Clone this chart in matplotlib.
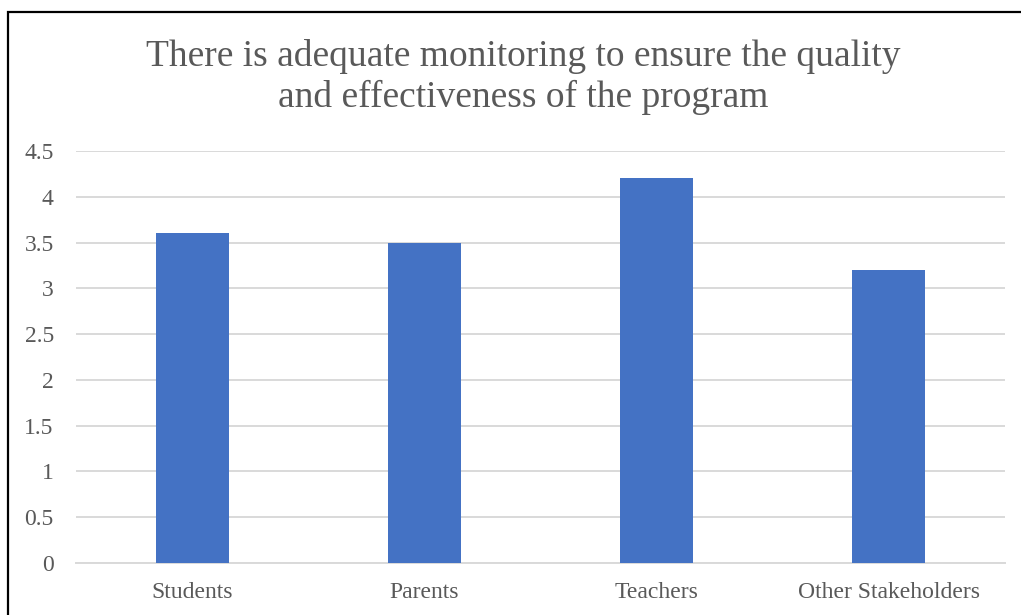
import matplotlib
matplotlib.use("Agg")
import matplotlib.pyplot as plt
from matplotlib.patches import Rectangle

# Mean ratings per respondent group
groups = ["Students", "Parents", "Teachers", "Other Stakeholders"]
ratings = [3.6, 3.5, 4.2, 3.2]
yticks = [0, 0.5, 1, 1.5, 2, 2.5, 3, 3.5, 4, 4.5]
ytick_labels = ["0", "0.5", "1", "1.5", "2", "2.5", "3", "3.5", "4", "4.5"]

plt.rcParams['font.family'] = ['Liberation Serif', 'DejaVu Serif']

W, H = 1021, 615
fig = plt.figure(figsize=(W / 100, H / 100), dpi=100)
ax = fig.add_axes([76 / W, 1 - 563 / H, (1005 - 76) / W, (563 - 151) / H])

x = list(range(len(groups)))
ax.bar(x, ratings, width=0.315, color='#4472C4', zorder=3)

ax.set_xlim(-0.5, len(groups) - 0.5)
ax.set_ylim(0, 4.5)
ax.set_yticks(yticks)
ax.set_yticklabels(ytick_labels)
ax.set_xticks(x)
ax.set_xticklabels(groups)
ax.grid(axis='y', color='#D9D9D9', linewidth=1.4, zorder=0)
ax.tick_params(axis='both', length=0, labelsize=17, labelcolor='#595959')
ax.tick_params(axis='y', pad=16)
ax.tick_params(axis='x', pad=14)
for s in ['top', 'right', 'left']:
    ax.spines[s].set_visible(False)
ax.spines['bottom'].set_color('#D9D9D9')
ax.spines['bottom'].set_linewidth(1.4)

fig.text(523 / W, 1 - 77 / H,
         "There is adequate monitoring to ensure the quality\nand effectiveness of the program",
         ha='center', va='center', fontsize=27, color='#595959', linespacing=1.18)

# chart frame
fig.patches.append(Rectangle((7.5 / W, -0.1), 1.2, 1 - 12.5 / H + 0.1,
                             transform=fig.transFigure, fill=False,
                             edgecolor='black', linewidth=1.6))

fig.savefig("out.png", dpi=100)
